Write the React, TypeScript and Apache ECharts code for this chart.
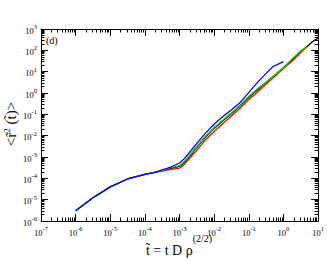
import React, { useEffect, useRef } from "react";
import * as echarts from "echarts";

// reduced time t~ and mean-square displacement values
const tEarly = [1e-6, 3.16e-6, 1e-5, 3.16e-5, 1e-4, 1.78e-4];
const msdEarly = [3.02e-6, 1.23e-5, 3.98e-5, 9.33e-5, 1.55e-4, 1.86e-4];

const tLate = [3.16e-4, 5.62e-4, 1e-3, 1.33e-3, 1.78e-3, 3.16e-3, 5.62e-3, 1e-2, 1.78e-2, 3.16e-2, 5.62e-2, 0.1, 0.178, 0.316, 0.562, 1, 1.78, 3.16, 4.57, 6.31, 10];

const msdBlack = [2.29e-4, 2.95e-4, 3.63e-4, 5.37e-4, 8.91e-4, 2.82e-3, 8.71e-3, 2.19e-2, 5.01e-2, 0.11, 0.251, 0.631, 1.41, 3.16, 6.92, 15.5, 37.2, 89.1, 141, 229, 380];
const msdRed = [2.19e-4, 2.63e-4, 3.02e-4, 4.37e-4, 7.41e-4, 2.04e-3, 6.46e-3, 1.58e-2, 3.72e-2, 8.32e-2, 0.2, 0.501, 1.12, 2.63, 6.03, 14.1, 31.6, 79.4, 145];
const msdGreen = [2.34e-4, 3.16e-4, 3.98e-4, 6.03e-4, 1e-3, 3.16e-3, 9.55e-3, 2.4e-2, 5.5e-2, 0.12, 0.275, 0.708, 1.58, 3.31, 7.24, 15.8, 39.8, 95.5, 145];

const tBlue = [3.16e-4, 5.62e-4, 1e-3, 1.33e-3, 1.78e-3, 3.16e-3, 5.62e-3, 1e-2, 1.78e-2, 3.16e-2, 5.62e-2, 0.1, 0.178, 0.316, 0.5, 1];
const msdBlue = [2.51e-4, 3.39e-4, 5.25e-4, 7.94e-4, 1.38e-3, 4.37e-3, 1.32e-2, 3.55e-2, 7.94e-2, 0.166, 0.355, 1.07, 3.16, 8.32, 17.4, 29.5];

// axis decades (exponents of 10) and minor-tick multipliers
const xDecades = [-7, -6, -5, -4, -3, -2, -1, 0, 1];
const yDecades = [-6, -5, -4, -3, -2, -1, 0, 1, 2, 3];
const minorMultipliers = [2, 3, 4, 5, 6, 7, 8, 9];

const xTitle = "{n|t\u0303 = t D \u03c1}{s|(2/2)}";
const yTitle = "{n|<r\u0303}{s|2}{n| (t\u0303)>}";
const panelLabel = "(d)";

const serif = "Liberation Serif";

function pairs(ts: number[], ys: number[]) {
  const out: number[][] = [];
  for (let i = 0; i < ys.length; i++) out.push([Math.log10(ts[i]), Math.log10(ys[i])]);
  return out;
}

function seriesData(late: number[], ts: number[] = tLate) {
  return pairs(tEarly, msdEarly).concat(pairs(ts, late));
}

function minorValues(decades: number[]) {
  const out: number[] = [];
  for (let i = 0; i < decades.length - 1; i++) {
    for (const m of minorMultipliers) out.push(decades[i] + Math.log10(m));
  }
  return out;
}

const labelRich = {
  b: { fontFamily: serif, fontSize: 8.5, color: "#000", lineHeight: 12, verticalAlign: "bottom" },
  s: { fontFamily: serif, fontSize: 6.5, color: "#000", lineHeight: 7, verticalAlign: "top" },
};

const powFormatter = (v: number) => `{b|10}{s|${Math.round(v)}}`;

function majorAxis(kind: "x" | "y", pos: string, labels: boolean) {
  const dec = kind === "x" ? xDecades : yDecades;
  return {
    type: "value",
    min: dec[0],
    max: dec[dec.length - 1],
    interval: 1,
    position: pos,
    axisLine: { show: true, onZero: false, lineStyle: { color: "#000", width: 1 } },
    axisTick: { show: true, inside: true, length: 7, lineStyle: { color: "#000", width: 1 } },
    splitLine: { show: false },
    axisLabel: labels
      ? { show: true, formatter: powFormatter, rich: labelRich, margin: 4 }
      : { show: false },
  } as any;
}

function minorAxis(kind: "x" | "y", pos: string) {
  const dec = kind === "x" ? xDecades : yDecades;
  return {
    type: "value",
    min: dec[0],
    max: dec[dec.length - 1],
    position: pos,
    axisLine: { show: false, onZero: false },
    axisTick: {
      show: true,
      inside: true,
      length: 3.5,
      customValues: minorValues(dec),
      lineStyle: { color: "#000", width: 1 },
    },
    splitLine: { show: false },
    axisLabel: { show: false },
  } as any;
}

export default function App() {
  const ref = useRef<HTMLDivElement>(null);
  useEffect(() => {
    if (!ref.current) return;
    const chart = echarts.init(ref.current, undefined, { renderer: "svg" });
    const xRich = {
      n: { fontFamily: serif, fontSize: 14, fill: "#000", color: "#000", lineHeight: 24, verticalAlign: "bottom" },
      s: { fontFamily: serif, fontSize: 10, fill: "#000", color: "#000", lineHeight: 10, verticalAlign: "top" },
    };
    const yRich = {
      n: { fontFamily: serif, fontSize: 15, fill: "#000", color: "#000", lineHeight: 16, verticalAlign: "bottom" },
      s: { fontFamily: serif, fontSize: 9, fill: "#000", color: "#000", lineHeight: 9, verticalAlign: "top" },
    };
    const lineSeries = (name: string, data: number[][], color: string) => ({
      name,
      type: "line",
      data,
      xAxisIndex: 0,
      yAxisIndex: 0,
      showSymbol: false,
      symbol: "none",
      lineStyle: { color, width: 1.3 },
      itemStyle: { color },
    });
    chart.setOption({
      animation: false,
      backgroundColor: "#fff",
      grid: { left: 41, right: 8, top: 29, bottom: 40, containLabel: false },
      xAxis: [majorAxis("x", "bottom", true), minorAxis("x", "bottom"), majorAxis("x", "top", false), minorAxis("x", "top")],
      yAxis: [majorAxis("y", "left", true), minorAxis("y", "left"), majorAxis("y", "right", false), minorAxis("y", "right")],
      graphic: [
        {
          type: "text",
          x: 46,
          y: 35,
          style: { text: panelLabel, fontFamily: serif, fontSize: 10, fill: "#000" },
        },
        {
          type: "text",
          x: 179,
          y: 257,
          style: { text: xTitle, rich: xRich, align: "center", verticalAlign: "bottom", fill: "#000" },
        },
        {
          type: "text",
          x: 10.5,
          y: 124,
          rotation: Math.PI / 2,
          style: { text: yTitle, rich: yRich, align: "center", verticalAlign: "middle", fill: "#000" },
        },
      ],
      series: [
        lineSeries("black", seriesData(msdBlack), "#000000"),
        lineSeries("red", seriesData(msdRed), "#ff0000"),
        lineSeries("green", seriesData(msdGreen), "#00e000"),
        lineSeries("blue", seriesData(msdBlue, tBlue), "#0000ff"),
      ],
    });
    return () => chart.dispose();
  }, []);
  return (
    <div
      ref={ref}
      style={{ position: "fixed", left: 0, top: 0, width: 327, height: 261, background: "#fff" }}
    />
  );
}
